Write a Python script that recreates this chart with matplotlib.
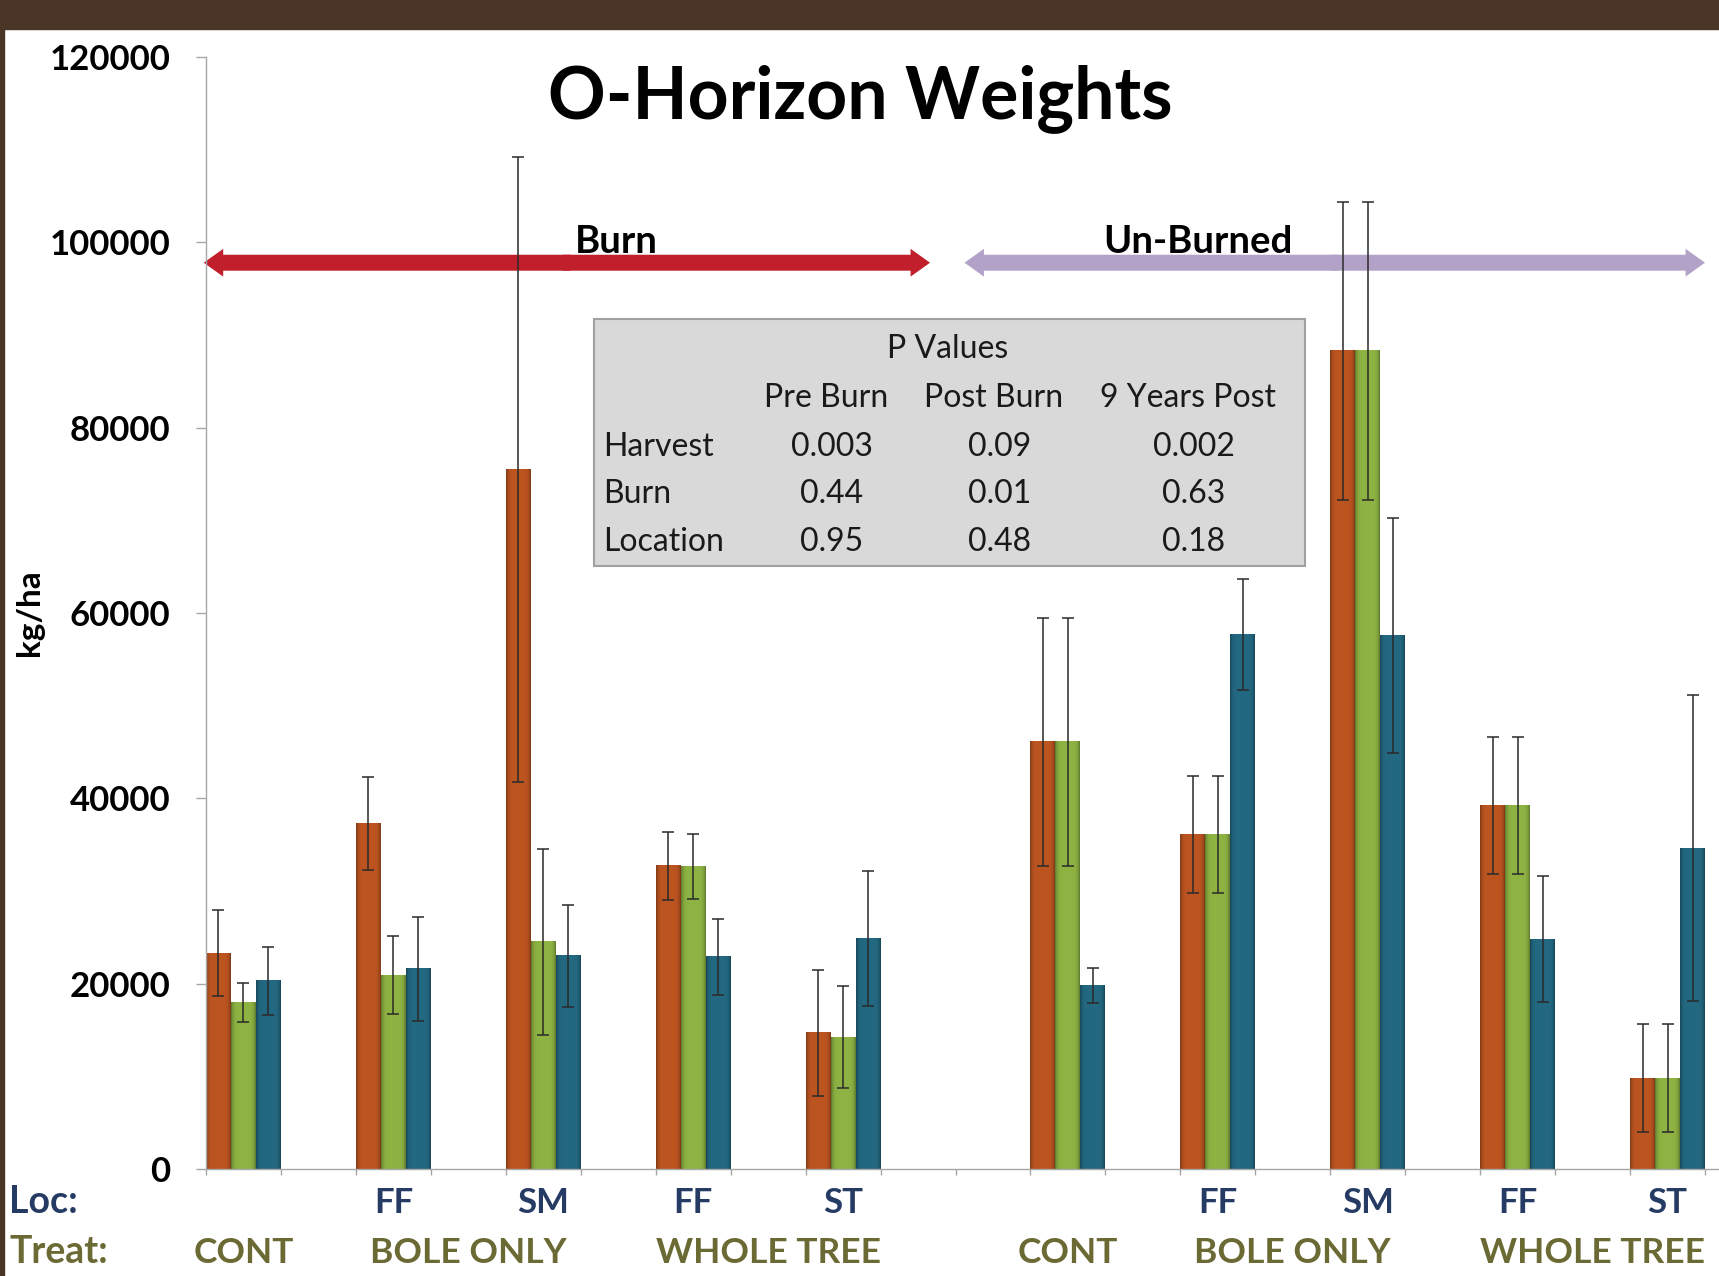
import numpy as np
import matplotlib.pyplot as plt
from matplotlib import transforms
from matplotlib.patches import Rectangle, FancyArrowPatch
from matplotlib.colors import to_rgb

plt.rcParams['font.family'] = ['Lato', 'DejaVu Sans']

# groups: 5 burned then 5 un-burned plots
locations = ['', 'FF', 'SM', 'FF', 'ST', '', 'FF', 'SM', 'FF', 'ST']
treatments = ['CONT', 'BOLE ONLY', 'BOLE ONLY', 'WHOLE TREE', 'WHOLE TREE',
              'CONT', 'BOLE ONLY', 'BOLE ONLY', 'WHOLE TREE', 'WHOLE TREE']

series_names = ['Pre Burn', 'Post Burn', '9 Years Post']
pre_burn = [23300, 37300, 75500, 32700, 14700, 46100, 36100, 88300, 39200, 9800]
pre_burn_err = [4600, 5000, 33700, 3700, 6800, 13400, 6300, 16100, 7400, 5800]
post_burn = [18000, 20900, 24500, 32600, 14200, 46100, 36100, 88300, 39200, 9800]
post_burn_err = [2100, 4200, 10000, 3500, 5500, 13400, 6300, 16100, 7400, 5800]
nine_years = [20300, 21600, 23000, 22900, 24900, 19800, 57700, 57600, 24800, 34600]
nine_years_err = [3700, 5600, 5500, 4100, 7300, 1900, 6000, 12700, 6800, 16500]

# p value table
p_cols = ['Pre Burn', 'Post Burn', '9 Years Post']
p_rows = ['Harvest', 'Burn', 'Location']
p_vals = [['0.003', '0.09', '0.002'],
          ['0.44', '0.01', '0.63'],
          ['0.95', '0.48', '0.18']]

colors = ['#B2501F', '#86A93F', '#21637A']

W, H = 1719, 1276
def fx(px):
    return px / W
def fy(py):
    return 1 - py / H

fig = plt.figure(figsize=(W / 100, H / 100), dpi=100, facecolor='white')
ax = fig.add_axes([fx(206), fy(1169), fx(W - 206), (1169 - 57) / H])

# burned groups sit in every other slot, un-burned ones start one slot later
slots = np.array([2 * i + (1 if i >= 5 else 0) for i in range(len(locations))])
bw = 1 / 3.0
values = [pre_burn, post_burn, nine_years]
errors = [pre_burn_err, post_burn_err, nine_years_err]

def shade_profile(n=40):
    t = np.linspace(0, 1, n)
    d = np.abs(2 * t - 1)
    return 1.06 - 0.34 * d ** 6

prof = shade_profile()
for j in range(3):
    xs = slots + bw * (j + 0.5)
    bars = ax.bar(xs, values[j], width=bw, color=colors[j], label=series_names[j],
                  zorder=2, linewidth=0)
    base = np.array(to_rgb(colors[j]))
    grad = np.clip(prof[:, None] * base[None, :], 0, 1)[None, :, :]
    for b in bars:
        ax.imshow(grad, extent=(b.get_x(), b.get_x() + b.get_width(), 0, b.get_height()),
                  aspect='auto', interpolation='bilinear', zorder=2.5)
    ax.errorbar(xs, values[j], yerr=errors[j], fmt='none', ecolor='#2a2a2a',
                elinewidth=1.1, capsize=4.5, capthick=1.1, zorder=4)

ax.set_xlim(0, (W - 206) / 74.95)
ax.set_ylim(0, 120000)
ax.set_yticks(range(0, 120001, 20000))
ax.set_xticks(range(0, 21))
ax.set_xticklabels([])
for lab in ax.get_yticklabels():
    lab.set_fontweight('bold')
ax.tick_params(axis='y', length=7, width=1, color='#A6A6A6', labelsize=25, pad=18.7)
ax.tick_params(axis='x', length=4.5, width=1, color='#A6A6A6')
for s in ['top', 'right']:
    ax.spines[s].set_visible(False)
for s in ['left', 'bottom']:
    ax.spines[s].set_color('#A6A6A6')
    ax.spines[s].set_linewidth(1)

# burn / un-burned arrows
arrow_y = 97800
def double_arrow(x0, x1, color):
    mid = (x0 + x1) / 2
    for a, b in [(mid + 0.05, x0), (mid - 0.05, x1)]:
        ax.add_patch(FancyArrowPatch((a, arrow_y), (b, arrow_y),
                     arrowstyle='simple,head_length=1.4,head_width=2.0,tail_width=1.15',
                     mutation_scale=10, color=color, lw=0, shrinkA=0, shrinkB=0,
                     zorder=1.5, clip_on=False))
double_arrow(-0.03, 9.66, '#C01F2B')
double_arrow(10.12, 20.0, '#B3A2C7')
fig.text(fx(616), fy(253), 'Burn', ha='center', va='baseline', fontsize=27.5, weight='bold')
fig.text(fx(1198), fy(253), 'Un-Burned', ha='center', va='baseline', fontsize=27.5, weight='bold')

fig.text(fx(860), fy(118), 'O-Horizon Weights', ha='center', va='baseline',
         fontsize=51.5, weight='bold')
fig.text(fx(29), fy(613), 'kg/ha', rotation=90, ha='center', va='center',
         fontsize=24, weight='bold')

# location / treatment labels under the axis
tr = transforms.blended_transform_factory(ax.transData, fig.transFigure)
loc_color = '#253B63'
treat_color = '#6B6A35'
for s, loc in zip(slots, locations):
    if loc:
        ax.text(s + 0.5, fy(1213), loc, transform=tr, ha='center', va='baseline',
                fontsize=25, weight='bold', color=loc_color, clip_on=False)
i = 0
while i < len(treatments):
    k = i
    while k + 1 < len(treatments) and treatments[k + 1] == treatments[i] and (k + 1 != 5):
        k += 1
    xc = (slots[i] + slots[k]) / 2 + 0.5
    ax.text(xc, fy(1263), treatments[i], transform=tr, ha='center', va='baseline',
            fontsize=25.5, weight='bold', color=treat_color, clip_on=False)
    i = k + 1
fig.text(fx(9), fy(1213), 'Loc:', ha='left', va='baseline', fontsize=27,
         weight='bold', color=loc_color)
fig.text(fx(9), fy(1263), 'Treat:', ha='left', va='baseline', fontsize=27,
         weight='bold', color=treat_color)

# p value table
fig.add_artist(Rectangle((fx(594), fy(566)), fx(1305 - 594), (566 - 319) / H,
                         transform=fig.transFigure, facecolor='#D9D9D9',
                         edgecolor='#A0A0A0', lw=1.5, zorder=5))
tkw = dict(fontsize=23, va='baseline', color='#1a1a1a', zorder=6)
fig.text(fx(948), fy(358), 'P Values', ha='center', **tkw)
col_x = [826, 994, 1188]
for cx, name in zip(col_x, p_cols):
    fig.text(fx(cx), fy(407), name, ha='center', **tkw)
row_y = [456, 503, 551]
for ry, name, vals in zip(row_y, p_rows, p_vals):
    fig.text(fx(603), fy(ry), name, ha='left', **tkw)
    for cx, v in zip(col_x, vals):
        fig.text(fx(cx + 6), fy(ry), v, ha='center', **tkw)

# frame of the slide
fig.add_artist(Rectangle((0, fy(29)), 1, 29 / H, transform=fig.transFigure,
                         color='#4A3526', zorder=10))
fig.add_artist(Rectangle((0, 0), fx(4), 1, transform=fig.transFigure,
                         color='#4A3526', zorder=10))

fig.savefig('out.png', dpi=100, facecolor='white')
